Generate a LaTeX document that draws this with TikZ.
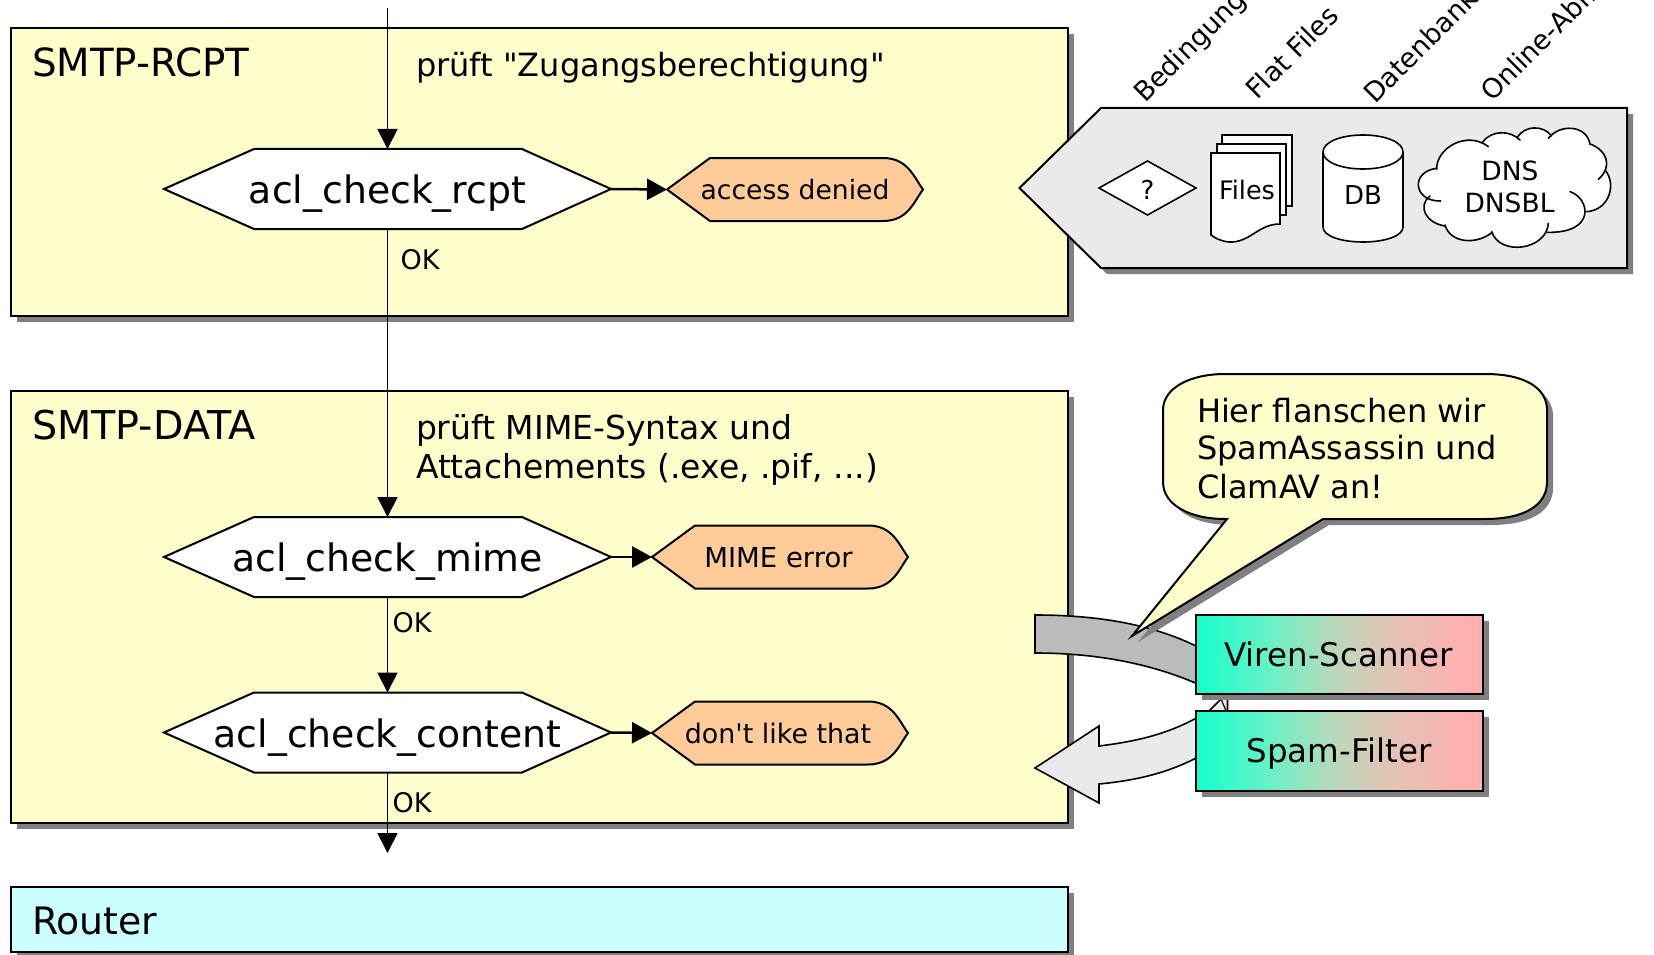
\documentclass[tikz,border=0pt]{standalone}
\usepackage{fontspec}
\setmainfont[Ligatures=TeXOff]{DejaVu Sans}
\usetikzlibrary{arrows.meta,shadows}
\definecolor{panelyellow}{HTML}{FFFFCC}
\definecolor{stoporange}{HTML}{FFCC99}
\definecolor{routercyan}{HTML}{CCFFFF}
\definecolor{shadowgray}{HTML}{808080}
\definecolor{palegray}{HTML}{EAEAEA}
\definecolor{midgray}{HTML}{BBBBBB}
\pgfdeclarehorizontalshading{scanshade}{100bp}{
  rgb(0bp)=(0.08,1,0.8); rgb(25bp)=(0.08,1,0.8);
  rgb(37.5bp)=(0.40,0.95,0.78); rgb(50bp)=(0.75,0.84,0.73);
  rgb(60bp)=(0.90,0.76,0.71); rgb(72bp)=(1,0.69,0.69); rgb(100bp)=(1,0.69,0.69)}
\newcommand{\fsz}[1]{\fontsize{#1pt}{#1pt}\selectfont}
\tikzset{
  x=1pt,y=-1pt,
  dropsh/.style={general shadow={fill=shadowgray,shadow xshift=6pt,shadow yshift=-6pt}},
  outlined/.style={draw=black,line width=2pt,line join=miter},
  panel/.style={outlined,dropsh,anchor=north west,inner sep=0pt,outer sep=0pt},
  yellowpanel/.style={panel,fill=panelyellow},
  grad/.style={panel,shading=scanshade,draw=black},
  txt/.style={inner sep=0pt,outer sep=0pt,anchor=base west},
  txtc/.style={inner sep=0pt,outer sep=0pt,anchor=base},
  hextxt/.style={inner sep=0pt,outer sep=0pt,minimum width=447pt,minimum height=80pt,anchor=center,text depth=0pt},
  flow/.style={line width=1.8pt,-{Triangle[width=20pt,length=20pt]},shorten >=0pt},
  stub/.style={line width=2.5pt,-{Triangle[width=21pt,length=20pt]}},
  rottxt/.style={inner sep=0pt,outer sep=0pt,anchor=base west,rotate=45,font=\fsz{27}},
  iconfill/.style={draw=black,line width=1.6pt,fill=white,line join=miter},
  cloudline/.style={draw=black,line width=1.6pt,line cap=round},
}
\newcommand{\hexshape}[2]{% centre x,y
  \draw[outlined,fill=white] (#1-223.5,#2) -- (#1-133.5,#2-40) -- (#1+134.5,#2-40) -- (#1+223.5,#2) -- (#1+134.5,#2+40) -- (#1-133.5,#2+40) -- cycle;}
\newcommand{\stopshape}[2]{% left tip x, centre y
  \draw[outlined,fill=stoporange] (#1,#2) -- (#1+43,#2-31.5)
    -- (#1+216,#2-31.5) .. controls (#1+241,#2-31.5) and (#1+247,#2-12) .. (#1+256,#2)
    .. controls (#1+247,#2+12) and (#1+241,#2+31.5) .. (#1+216,#2+31.5)
    -- (#1+43,#2+31.5) -- cycle;}
\begin{document}
\begin{tikzpicture}
\useasboundingbox (0,0) rectangle (1654,955);
\clip (0,0) rectangle (1654,955);
% panels
\node[yellowpanel,minimum width=1056.5pt,minimum height=288pt] (rcpt) at (11,28) {};
\node[yellowpanel,minimum width=1056.5pt,minimum height=432pt] (data) at (11,391) {};
\node[panel,fill=routercyan,minimum width=1056.5pt,minimum height=65pt] (router) at (11,887) {};
% panel texts
\node[txt,font=\fsz{38.8}] (lrcpt) at (32,77) {SMTP-RCPT};
\node[txt,font=\fsz{39.7}] (ldata) at (32,439.5) {SMTP-DATA};
\node[txt,font=\fsz{37.8}] (lrouter) at (32,934) {Router};
\node[txt,font=\fsz{32}] (trcpt) at (416,77) {prüft "Zugangsberechtigung"};
\node[txt,font=\fsz{33}] (tdata1) at (416,439.5) {prüft MIME-Syntax und};
\node[txt,font=\fsz{33}] (tdata2) at (416,478) {Attachements (.exe, .pif, ...)};
% hexagons
\hexshape{387.5}{189}
\hexshape{387.5}{557}
\hexshape{387.5}{732.5}
\node[hextxt] (h1) at (387.5,189) {};
\node[hextxt] (h2) at (387.5,557) {};
\node[hextxt] (h3) at (387.5,732.5) {};
\node[txtc,font=\fsz{37.8}] (t1) at (387.5,203) {acl\_check\_rcpt};
\node[txtc,font=\fsz{37.8}] (t2) at (387.5,571) {acl\_check\_mime};
\node[txtc,font=\fsz{37.8}] (t3) at (387.5,747) {acl\_check\_content};
% stop shapes
\stopshape{667}{189.5}
\stopshape{652}{557}
\stopshape{652}{733}
\coordinate (s1) at (667,189.5);
\coordinate (s2) at (652,557);
\coordinate (s3) at (652,733);
\node[txtc,font=\fsz{26.6}] (d1) at (795,199.5) {access denied};
\node[txtc,font=\fsz{27.5}] (d2) at (778.5,567) {MIME error};
\node[txtc,font=\fsz{26.9}] (d3) at (778,743) {don't like that};
% connectors
\coordinate (in) at (387.5,8);
\coordinate (out) at (387.5,853);
\draw[flow] (in) -- (h1.north);
\draw[flow] (h1.south) -- (h2.north);
\draw[flow] (h2.south) -- (h3.north);
\draw[flow] (h3.south) -- (out);
\draw[stub] (h1.east) -- (s1);
\draw[stub] (h2.east) -- (s2);
\draw[stub] (h3.east) -- (s3);
\node[txt,font=\fsz{27}] (ok1) at (400.5,269) {OK};
\node[txt,font=\fsz{27}] (ok2) at (392.5,632.5) {OK};
\node[txt,font=\fsz{27}] (ok3) at (392.5,812) {OK};
% data source panel
\draw[outlined,fill=palegray,dropsh] (1019.5,188) -- (1101,108) -- (1627,108) -- (1627,268) -- (1101,268) -- cycle;
\node[rottxt] (r1) at (1145,104) {Bedingung};
\node[rottxt] (r2) at (1257,101) {Flat Files};
\node[rottxt] (r3) at (1375,105) {Datenbank};
\node[rottxt] (r4) at (1492,103) {Online-Abfrage};
\draw[iconfill] (1099,188) -- (1147.5,161) -- (1196,188) -- (1147.5,215) -- cycle;
\node[txtc,font=\fsz{26}] (q) at (1147.5,199) {?};
\draw[iconfill] (1222,135) rectangle (1292,206);
\draw[iconfill] (1217,144) rectangle (1286,215);
\draw[iconfill] (1211,153) -- (1280,153) -- (1280,224) .. controls (1258,224) and (1250,243) .. (1229,242) .. controls (1220,241) and (1215,238) .. (1211,235) -- cycle;
\node[txt,font=\fsz{25.5}] (files) at (1219,199) {Files};
\draw[iconfill] (1323,152) .. controls (1323,142) and (1341,135) .. (1363,135) .. controls (1385,135) and (1403,142) .. (1403,152)
  -- (1403,227) .. controls (1403,236) and (1385,242) .. (1363,242) .. controls (1341,242) and (1323,236) .. (1323,227) -- cycle;
\draw[draw=black,line width=1.6pt] (1323,152) .. controls (1323,162) and (1341,169) .. (1363,169) .. controls (1385,169) and (1403,162) .. (1403,152);
\node[txtc,font=\fsz{26}] (db) at (1363,204) {DB};
% cloud
\begin{scope}[shift={(1410,120)},x=0.3333pt,y=-0.3333pt]
\fill[white] (310,205) ellipse (220 and 130);
\fill[white] (80,148) .. controls (78,85) and (170,30) .. (235,80)
  -- (218,66) .. controls (245,30) and (300,30) .. (330,60)
  -- (322,52) .. controls (345,15) and (400,15) .. (425,48)
  -- (415,55) .. controls (450,10) and (530,15) .. (540,72)
  .. controls (590,90) and (610,140) .. (565,178)
  -- (585,150) .. controls (620,190) and (600,270) .. (530,275)
  -- (530,285) .. controls (530,320) and (480,340) .. (412,337)
  -- (415,310) .. controls (410,390) and (270,410) .. (245,335)
  -- (245,338) .. controls (200,375) and (120,370) .. (105,315)
  .. controls (50,310) and (20,260) .. (60,228)
  -- (92,243) .. controls (10,245) and (0,155) .. (80,145) -- cycle;
\draw[cloudline] (80,148) .. controls (78,85) and (170,30) .. (235,80);
\draw[cloudline] (218,66) .. controls (245,30) and (300,30) .. (330,60);
\draw[cloudline] (322,52) .. controls (345,15) and (400,15) .. (425,48);
\draw[cloudline] (415,55) .. controls (450,10) and (530,15) .. (540,72);
\draw[cloudline] (540,72) .. controls (590,90) and (610,140) .. (565,178);
\draw[cloudline] (585,150) .. controls (620,190) and (600,270) .. (530,275);
\draw[cloudline] (480,215) .. controls (540,235) and (560,340) .. (412,337);
\draw[cloudline] (415,310) .. controls (410,390) and (270,410) .. (245,335);
\draw[cloudline] (245,338) .. controls (200,375) and (120,370) .. (105,315);
\draw[cloudline] (105,318) .. controls (50,310) and (20,260) .. (60,228);
\draw[cloudline] (92,243) .. controls (10,245) and (0,155) .. (80,145);
\end{scope}
\node[txtc,font=\fsz{26.5}] (dns) at (1510,180) {DNS};
\node[txtc,font=\fsz{26.5}] (dnsbl) at (1509.5,212) {DNSBL};
% block arrows
\draw[draw=black,line width=1.6pt,fill=palegray] (1207,713) -- (1221,699) -- (1227.5,699) -- (1227.5,713) -- cycle;
\draw[draw=black,line width=1.2pt,fill=white] (1221,699) -- (1227,713);
\draw[draw=black,line width=1.6pt,fill=midgray] (1035,615) .. controls (1100,615) and (1155,625) .. (1200,648) -- (1200,685) .. controls (1155,665) and (1100,653) .. (1035,653) -- cycle;
\draw[draw=black,line width=1.6pt,fill=palegray] (1035,768) -- (1099,726) -- (1099,746) .. controls (1140,741) and (1170,733) .. (1200,716) -- (1200,756) .. controls (1170,772) and (1140,780) .. (1099,784) -- (1099,803) -- cycle;
% scanners
\node[grad,minimum width=287pt,minimum height=79pt] (viren) at (1196,615) {};
\node[grad,minimum width=287pt,minimum height=80pt] (spam) at (1196,711) {};
\node[txtc,font=\fsz{32.5}] (tv) at (1338.5,666.5) {Viren-Scanner};
\node[txtc,font=\fsz{32.5}] (ts) at (1339,762.5) {Spam-Filter};
% bubble
\draw[outlined,fill=panelyellow,dropsh] (1163,410) .. controls (1163,388) and (1190,374) .. (1225,374)
  -- (1485,374) .. controls (1525,374) and (1547,388) .. (1547,410)
  -- (1547,482) .. controls (1547,505) and (1525,519) .. (1485,519)
  -- (1323,519) -- (1132,636) -- (1227,519) -- (1225,519)
  .. controls (1190,519) and (1163,505) .. (1163,482) -- cycle;
\node[txt,font=\fsz{32}] (b1) at (1197,422) {Hier flanschen wir};
\node[txt,font=\fsz{32}] (b2) at (1197,459.5) {SpamAssassin und};
\node[txt,font=\fsz{32}] (b3) at (1197,498.5) {ClamAV an!};
\end{tikzpicture}
\end{document}
